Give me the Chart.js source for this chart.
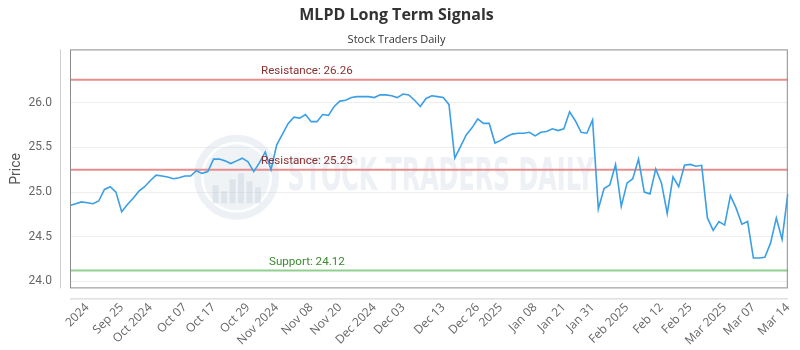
<!DOCTYPE html>
<html>
<head>
<meta charset="utf-8">
<script src="https://cdn.jsdelivr.net/npm/chart.js@4.4.1/dist/chart.umd.min.js"></script>
<style>
    html, body { margin: 0; padding: 0; background: #fff; }
</style>
</head>
<body>
<canvas id="signal-chart" width="800" height="350"></canvas>
<script>
// Giá đóng cửa (mỗi phiên một điểm)
const prices = [
    24.85, 24.87, 24.89, 24.88, 24.87, 24.90, 25.03, 25.06, 25.00, 24.78,
    24.86, 24.93, 25.01, 25.06, 25.13, 25.19, 25.18, 25.17, 25.15, 25.16,
    25.18, 25.18, 25.24, 25.21, 25.23, 25.37, 25.37, 25.35, 25.32, 25.35,
    25.38, 25.34, 25.23, 25.33, 25.45, 25.25, 25.53, 25.65, 25.77, 25.84,
    25.83, 25.87, 25.79, 25.79, 25.87, 25.86, 25.96, 26.02, 26.03, 26.06,
    26.07, 26.07, 26.07, 26.06, 26.09, 26.09, 26.08, 26.06, 26.10, 26.09,
    26.03, 25.96, 26.05, 26.08, 26.07, 26.06, 25.98, 25.38, 25.51, 25.64,
    25.72, 25.82, 25.77, 25.77, 25.55, 25.58, 25.62, 25.65, 25.66, 25.66,
    25.67, 25.63, 25.67, 25.68, 25.71, 25.69, 25.71, 25.90, 25.80, 25.67,
    25.66, 25.81, 24.81, 25.04, 25.08, 25.31, 24.84, 25.10, 25.15, 25.37,
    25.00, 24.98, 25.26, 25.10, 24.76, 25.17, 25.06, 25.30, 25.31, 25.29,
    25.30, 24.71, 24.57, 24.67, 24.63, 24.96, 24.82, 24.64, 24.67, 24.26,
    24.26, 24.27, 24.43, 24.71, 24.47, 24.98
];

// Nhãn trục x và vị trí (chỉ số điểm) của chúng
const tickText = ['2024', 'Sep 25', 'Oct 2024', 'Oct 07', 'Oct 17', 'Oct 29', 'Nov 2024', 'Nov 08',
    'Nov 20', 'Dec 2024', 'Dec 03', 'Dec 13', 'Dec 26', '2025', 'Jan 08', 'Jan 21', 'Jan 31',
    'Feb 2025', 'Feb 12', 'Feb 25', 'Mar 2025', 'Mar 07', 'Mar 14'];
const tickAt = [3, 9, 14, 20, 25, 31, 36, 42, 47, 53, 58, 65, 71, 75, 81, 86, 91, 97, 103, 108, 114, 119, 125];

// Các mức hỗ trợ / kháng cự
const levelNames = ['Resistance', 'Resistance', 'Support'];
const levelValues = [26.26, 25.25, 24.12];

const priceTicks = [24.0, 24.5, 25.0, 25.5, 26.0];

const labels = prices.map((p, i) => {
    const k = tickAt.indexOf(i);
    return k >= 0 ? tickText[k] : '';
});

const levelLine = ['#e88d8d', '#e88d8d', '#8fcf8f'];
const levelText = ['#8b2f2f', '#8b2f2f', '#3a8a2e'];

let datasets = [{
    label: 'MLPD',
    data: prices,
    borderColor: '#3a9fe6',
    borderWidth: 1.6,
    pointRadius: 0,
    tension: 0,
    order: 0
}];

levelValues.forEach((v, i) => {
    datasets.push({
        label: levelNames[i],
        data: prices.map(() => v),
        borderColor: levelLine[i],
        borderWidth: 2,
        pointRadius: 0,
        order: 1
    });
});

// vẽ watermark, khung, trục và nhãn của các mức
const decorPlugin = {
    id: 'decor',
    beforeDatasetsDraw(chart) {
        const ctx = chart.ctx;
        const a = chart.chartArea;
        const w = a.right - a.left;
        const h = a.bottom - a.top;
        ctx.save();
        // logo tròn
        const cx = a.left + 0.232 * w;
        const cy = a.top + 0.535 * h;
        ctx.strokeStyle = 'rgba(210,220,230,0.4)';
        ctx.lineWidth = 7;
        ctx.beginPath();
        ctx.arc(cx, cy, 39, 0, Math.PI * 2);
        ctx.stroke();
        ctx.fillStyle = 'rgba(210,220,230,0.35)';
        ctx.beginPath();
        ctx.arc(cx, cy, 33, 0, Math.PI * 2);
        ctx.fill();
        ctx.fillStyle = 'rgba(195,205,215,0.4)';
        const bars = [18, 12, 24, 30, 22, 16];
        bars.forEach((bh, i) => {
            ctx.fillRect(cx - 24 + i * 8.5, cy + 26 - bh, 6, bh);
        });
        // chữ
        ctx.fillStyle = 'rgba(220,226,233,0.5)';
        ctx.font = 'bold 44px "DejaVu Sans Condensed", "DejaVu Sans"';
        ctx.textBaseline = 'middle';
        const txt = 'STOCK TRADERS DAILY';
        const tw = ctx.measureText(txt).width;
        const x0 = a.left + 0.303 * w;
        const target = 0.427 * w;
        ctx.translate(x0, cy + 1);
        ctx.scale(target / tw, 1);
        ctx.fillText(txt, 0, 0);
        ctx.restore();
    },
    afterDatasetsDraw(chart) {
        const ctx = chart.ctx;
        const a = chart.chartArea;
        const y = chart.scales.y;
        ctx.save();
        ctx.font = '11.6px Roboto';
        ctx.textAlign = 'center';
        ctx.textBaseline = 'bottom';
        levelValues.forEach((v, i) => {
            ctx.fillStyle = levelText[i];
            ctx.fillText(levelNames[i] + ': ' + v.toFixed(2), a.left + 0.33 * (a.right - a.left), y.getPixelForValue(v) - 3);
        });
        ctx.restore();
    },
    afterDraw(chart) {
        const ctx = chart.ctx;
        const a = chart.chartArea;
        ctx.save();
        ctx.lineWidth = 1;
        ctx.strokeStyle = '#8c8c8c';
        ctx.strokeRect(a.left + 0.5, a.top + 0.5, a.right - a.left - 1, a.bottom - a.top - 1);
        ctx.strokeStyle = '#cfcfcf';
        ctx.beginPath();
        ctx.moveTo(a.left - 9.5, a.top);
        ctx.lineTo(a.left - 9.5, a.bottom);
        ctx.moveTo(a.left, a.bottom + 10.5);
        ctx.lineTo(a.right, a.bottom + 10.5);
        ctx.stroke();
        ctx.restore();
    }
};

let ctx = document.getElementById('signal-chart').getContext('2d');
let myChart = new Chart(ctx, {
    type: 'line',
    data: { labels: labels, datasets: datasets },
    plugins: [decorPlugin],
    options: {
        responsive: false,
        animation: false,
        layout: { padding: { left: 4, right: 11, top: 0, bottom: 0 } },
        plugins: {
            legend: { display: false },
            tooltip: { enabled: false },
            title: {
                display: true,
                text: 'MLPD Long Term Signals',
                color: '#333',
                font: { family: 'Open Sans', size: 16, weight: 'bold' },
                padding: { top: 6, bottom: 4 }
            },
            subtitle: {
                display: true,
                text: 'Stock Traders Daily',
                color: '#333',
                font: { family: 'Open Sans', size: 11 },
                padding: { top: 4, bottom: 3 }
            }
        },
        scales: {
            x: {
                grid: { display: true, drawOnChartArea: false, drawTicks: true, tickLength: 10, color: 'transparent' },
                border: { display: false },
                ticks: {
                    autoSkip: false,
                    minRotation: 45,
                    maxRotation: 45,
                    padding: 2,
                    color: '#666',
                    font: { family: 'Open Sans', size: 12 },
                    callback: (v, i) => labels[i]
                }
            },
            y: {
                min: 23.92,
                max: 26.6,
                afterBuildTicks: (scale) => {
                    scale.ticks = priceTicks.map(v => ({ value: v }));
                },
                afterFit: (scale) => {
                    scale.width = 66;
                },
                grid: { color: '#eeeeee', tickColor: 'transparent', tickLength: 10 },
                border: { display: false },
                title: {
                    display: true,
                    text: 'Price',
                    color: '#555',
                    font: { family: 'Roboto', size: 14 }
                },
                ticks: {
                    padding: 8,
                    color: '#666',
                    font: { family: 'Roboto', size: 12 },
                    callback: (v) => v.toFixed(1)
                }
            }
        }
    }
});
</script>
</body>
</html>
